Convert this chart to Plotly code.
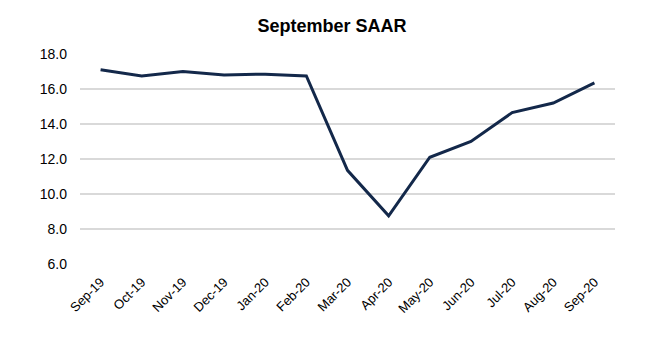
import plotly.graph_objects as go

months = ["Sep-19", "Oct-19", "Nov-19", "Dec-19", "Jan-20", "Feb-20", "Mar-20",
          "Apr-20", "May-20", "Jun-20", "Jul-20", "Aug-20", "Sep-20"]
saar = [17.1, 16.75, 17.0, 16.8, 16.85, 16.75, 11.35, 8.75, 12.1, 13.0, 14.65, 15.2, 16.35]
y_ticks = [6.0, 8.0, 10.0, 12.0, 14.0, 16.0, 18.0]

fig = go.Figure(go.Scatter(
    x=months, y=saar, mode="lines",
    line=dict(color="#13284A", width=3),
    hoverinfo="x+y",
))

W, H = 662, 348
L, R, T, B = 80, 47, 54, 84

fig.update_layout(
    width=W, height=H,
    margin=dict(l=L, r=R, t=T, b=B, pad=0),
    paper_bgcolor="white", plot_bgcolor="white",
    showlegend=False,
    font=dict(family="Liberation Sans, Arial, sans-serif", size=13, color="#000000"),
    title=dict(
        text="<b>September SAAR</b>",
        font=dict(size=18, color="#000000"),
        x=332 / W, xref="container", xanchor="center",
        y=1 - 26 / H, yref="container", yanchor="middle",
    ),
)
fig.update_xaxes(
    type="category", range=[-0.5, 12.5],
    showgrid=False, zeroline=False, showline=False,
    ticks="", tickangle=-45, ticklabelstandoff=7,
    tickfont=dict(size=13),
)
fig.update_yaxes(
    range=[6.0, 18.0], tickvals=y_ticks,
    ticktext=[f"{v:.1f}" for v in y_ticks],
    showgrid=True, gridcolor="#D9D9D9", gridwidth=1.5,
    zeroline=False, showline=False, ticks="",
    ticklabelstandoff=12,
    tickfont=dict(size=14),
)

fig.write_html("out.html")
